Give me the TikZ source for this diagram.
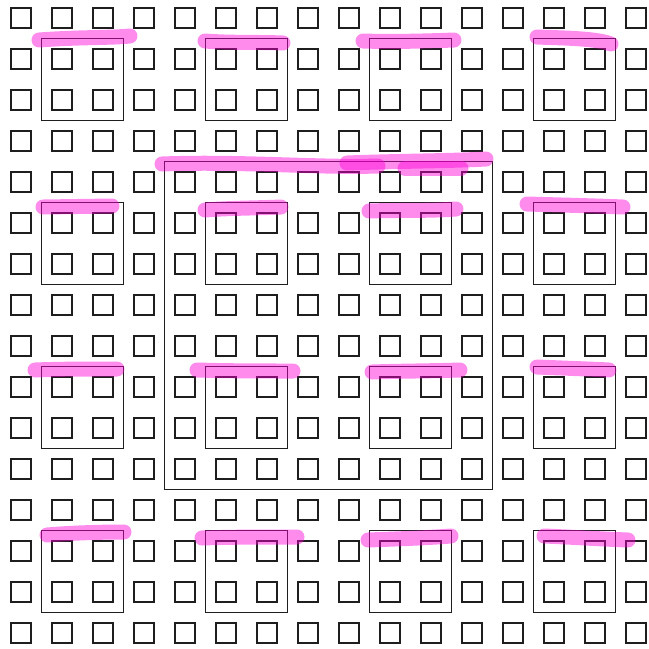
\documentclass[tikz,border=0pt]{standalone}
\definecolor{hlpink}{RGB}{255,0,215}
\definecolor{ink}{RGB}{30,30,30}
\begin{document}
\begin{tikzpicture}[x=1pt,y=-1pt,
  sq/.style={draw=ink, line width=1.8pt, minimum size=20.5pt, inner sep=0pt, outer sep=0pt},
  box/.style={draw=ink, line width=1.5pt, inner sep=0pt, outer sep=0pt},
  hl/.style={draw=hlpink, line width=15pt, line cap=round, opacity=0.45}]
\useasboundingbox (0,0) rectangle (649,649);
% grid of small squares
\foreach \i in {0,...,15}
  \foreach \j in {0,...,15}
    \node[sq] (s-\i-\j) at ({21+41*\i},{18+41*\j}) {};
% 2x2 boxes
\foreach \i in {1,5,9,13}
  \foreach \j in {1,5,9,13}
    \node[box, minimum size=82pt] (b-\i-\j) at ({41.5+41*\i},{38.5+41*\j}) {};
% large box
\node[box, minimum size=328pt] (big) at (328.5,325.5) {};
% highlighter strokes
\draw[hl] (39,40) .. controls (80,37) and (110,38) .. (130,36);
\draw[hl] (205,41) .. controls (230,43) and (260,42) .. (283,43);
\draw[hl] (363,41) .. controls (390,42) and (430,41) .. (454,40);
\draw[hl] (537,37) .. controls (560,38) and (595,38) .. (611,44);
\draw[hl] (162,164) .. controls (240,161) and (320,168) .. (378,166);
\draw[hl] (347,163) .. controls (400,161) and (450,161) .. (486,159);
\draw[hl] (405,168) -- (461,168);
\draw[hl] (43,207) -- (112,206);
\draw[hl] (205,210) .. controls (230,208) and (260,208) .. (281,207);
\draw[hl] (369,211) .. controls (400,210) and (430,211) .. (456,209);
\draw[hl] (527,204) .. controls (560,205) and (600,206) .. (623,207);
\draw[hl] (35,370) .. controls (60,369) and (90,369) .. (117,369);
\draw[hl] (197,370) .. controls (230,371) and (265,371) .. (293,371);
\draw[hl] (372,372) .. controls (400,371) and (430,371) .. (460,370);
\draw[hl] (537,367) .. controls (560,368) and (590,369) .. (609,370);
\draw[hl] (47,535) .. controls (70,533) and (100,532) .. (124,532);
\draw[hl] (202,538) .. controls (230,537) and (265,537) .. (297,537);
\draw[hl] (368,540) .. controls (395,539) and (425,538) .. (451,536);
\draw[hl] (544,536) .. controls (570,537) and (600,539) .. (628,540);
\end{tikzpicture}
\end{document}
